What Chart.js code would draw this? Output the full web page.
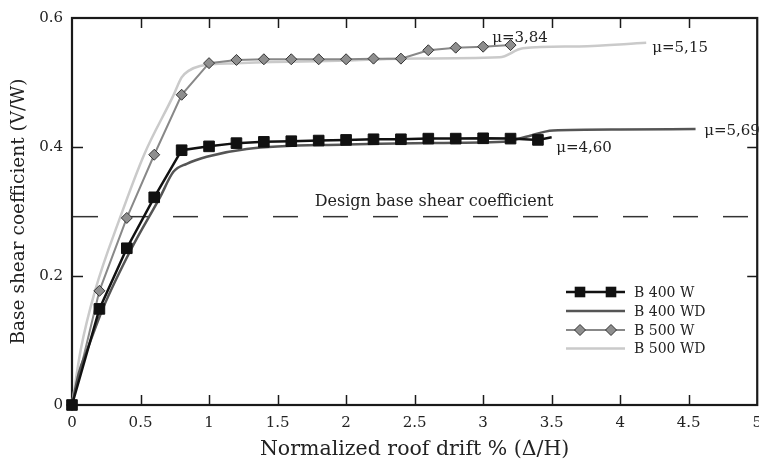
<!DOCTYPE html>
<html><head><meta charset="utf-8">
<script src="https://cdn.jsdelivr.net/npm/chart.js@4.4.1/dist/chart.umd.min.js"></script>
<style>html,body{margin:0;padding:0;overflow:hidden;background:#fff;} #wrap{width:771px;height:465px;}</style>
</head><body><div id="wrap"><canvas id="c" width="771" height="465"></canvas></div>
<script>
// ---- data ----
const xTicks = [0, 0.5, 1, 1.5, 2, 2.5, 3, 3.5, 4, 4.5, 5];
const yTicks = [0, 0.2, 0.4, 0.6];
const xTitle = 'Normalized roof drift % (\u0394/H)';
const yTitle = 'Base shear coefficient (V/W)';
const seriesNames = ['B 400 W', 'B 400 WD', 'B 500 W', 'B 500 WD'];

const b400wX = [0, 0.2, 0.4, 0.6, 0.8, 1.0, 1.2, 1.4, 1.6, 1.8, 2.0, 2.2, 2.4, 2.6, 2.8, 3.0, 3.2, 3.4, 3.5];
const b400wY = [0, 0.149, 0.243, 0.322, 0.395, 0.401, 0.406, 0.408, 0.409, 0.410, 0.411, 0.412, 0.412, 0.413, 0.413, 0.4135, 0.413, 0.411, 0.415];

const b400wdX = [0, 0.05, 0.11, 0.224, 0.435, 0.642, 0.74, 0.837, 0.983, 1.275, 2.0, 2.5, 3.15, 3.3, 3.51, 4.0, 4.55];
const b400wdY = [0, 0.05, 0.085, 0.149, 0.243, 0.322, 0.3615, 0.374, 0.385, 0.397, 0.404, 0.406, 0.408, 0.415, 0.4256, 0.427, 0.428];

const b500wX = [0, 0.2, 0.4, 0.6, 0.8, 1.0, 1.2, 1.4, 1.6, 1.8, 2.0, 2.2, 2.4, 2.6, 2.8, 3.0, 3.2];
const b500wY = [0, 0.177, 0.290, 0.388, 0.481, 0.530, 0.535, 0.536, 0.536, 0.536, 0.536, 0.537, 0.537, 0.550, 0.554, 0.5555, 0.558];

const b500wdX = [0, 0.063, 0.168, 0.35, 0.53, 0.74, 0.8, 0.85, 0.934, 1.2, 2.0, 2.4, 3.12, 3.29, 3.7, 4.19];
const b500wdY = [0, 0.085, 0.177, 0.29, 0.39, 0.48, 0.508, 0.518, 0.5256, 0.530, 0.534, 0.537, 0.539, 0.553, 0.556, 0.5615];

const designY = 0.292;
const designLabel = 'Design base shear coefficient';
const designLabelX = 2.642;
const designLabelY = 0.315;

const muLabels = ['\u03bc=3,84', '\u03bc=5,15', '\u03bc=5,69', '\u03bc=4,60'];
const muX = [3.066, 4.234, 4.613, 3.533];
const muY = [0.569, 0.554, 0.425, 0.398];

// ---- build ----
const pts = (xs, ys) => xs.map((x, i) => ({x: x, y: ys[i]}));
const FONT = 'DejaVu Serif';

const datasets = [
  {label: seriesNames[0], data: pts(b400wX, b400wY), borderColor: '#111', borderWidth: 2.5,
   pointStyle: 'rect', pointRadius: b400wX.map((_, i) => i === b400wX.length - 1 ? 0 : 7.5),
   pointBackgroundColor: '#111', pointBorderColor: '#111', pointBorderWidth: 1, tension: 0, clip: false},
  {label: seriesNames[1], data: pts(b400wdX, b400wdY), borderColor: '#555', borderWidth: 2.5,
   pointRadius: 0, cubicInterpolationMode: 'monotone', clip: false},
  {label: seriesNames[2], data: pts(b500wX, b500wY), borderColor: '#888', borderWidth: 2,
   pointStyle: 'rectRot', pointRadius: 5.5, pointBackgroundColor: '#8e8e8e', pointBorderColor: '#333',
   pointBorderWidth: 1, tension: 0, clip: false},
  {label: seriesNames[3], data: pts(b500wdX, b500wdY), borderColor: '#cacaca', borderWidth: 2.5,
   pointRadius: 0, cubicInterpolationMode: 'monotone', clip: false},
  {label: 'design', data: [{x: 0, y: designY}, {x: 5, y: designY}], borderColor: '#333', borderWidth: 1.5,
   borderDash: [25, 25], borderDashOffset: -1, pointRadius: 0}
];

const framePlugin = {
  id: 'frame',
  beforeDatasetsDraw(chart) {
    const {ctx, chartArea: a, scales: {x, y}} = chart;
    ctx.save();
    ctx.strokeStyle = '#1a1a1a';
    ctx.lineWidth = 1.5;
    const ln = (x1, y1, x2, y2) => { ctx.beginPath(); ctx.moveTo(x1, y1); ctx.lineTo(x2, y2); ctx.stroke(); };
    xTicks.forEach(v => {
      if (v <= x.min || v >= x.max) return;
      const px = Math.round(x.getPixelForValue(v)) + 0.5;
      ln(px, a.bottom, px, a.bottom - 10);
      ln(px, a.top, px, a.top + 10);
    });
    yTicks.forEach(v => {
      if (v <= y.min || v >= y.max) return;
      const py = Math.round(y.getPixelForValue(v)) + 0.5;
      ln(a.left, py, a.left + 11, py);
      ln(a.right, py, a.right - 10, py);
    });
    ctx.lineWidth = 2.2;
    ctx.strokeRect(a.left, a.top, a.right - a.left, a.bottom - a.top);
    ctx.restore();
  }
};

const textPlugin = {
  id: 'texts',
  afterDatasetsDraw(chart) {
    const {ctx, scales: {x, y}} = chart;
    ctx.save();
    ctx.fillStyle = '#222';
    ctx.textBaseline = 'middle';
    ctx.font = '16px "' + FONT + '"';
    ctx.textAlign = 'center';
    ctx.fillText(designLabel, x.getPixelForValue(designLabelX), y.getPixelForValue(designLabelY));
    ctx.font = '15px "' + FONT + '"';
    ctx.textAlign = 'left';
    muLabels.forEach((t, i) => ctx.fillText(t, x.getPixelForValue(muX[i]), y.getPixelForValue(muY[i])));
    ctx.restore();
  }
};

const legendPlugin = {
  id: 'customLegend',
  afterDraw(chart) {
    const ctx = chart.ctx;
    const rows = [292, 311, 330, 348.5];
    const x1 = 566, x2 = 625, tx = 634, mk = [580, 611];
    ctx.save();
    seriesNames.forEach((name, i) => {
      const ds = chart.data.datasets[i];
      const yy = rows[i];
      ctx.strokeStyle = ds.borderColor;
      ctx.lineWidth = ds.borderWidth;
      ctx.beginPath(); ctx.moveTo(x1, yy); ctx.lineTo(x2, yy); ctx.stroke();
      if (ds.pointStyle === 'rect') {
        mk.forEach(mx => {
          ctx.fillStyle = ds.pointBackgroundColor;
          ctx.fillRect(mx - 5.3, yy - 5.3, 10.6, 10.6);
        });
      } else if (ds.pointStyle === 'rectRot') {
        mk.forEach(mx => {
          const r = 5.5;
          ctx.beginPath();
          ctx.moveTo(mx - r, yy); ctx.lineTo(mx, yy - r); ctx.lineTo(mx + r, yy); ctx.lineTo(mx, yy + r); ctx.closePath();
          ctx.fillStyle = ds.pointBackgroundColor; ctx.fill();
          ctx.lineWidth = 1; ctx.strokeStyle = ds.pointBorderColor; ctx.stroke();
        });
      }
      ctx.fillStyle = '#222';
      ctx.font = '14px "' + FONT + '"';
      ctx.textAlign = 'left';
      ctx.textBaseline = 'middle';
      ctx.fillText(name, tx, yy + 1);
    });
    ctx.restore();
  }
};

new Chart(document.getElementById('c'), {
  type: 'line',
  data: {datasets: datasets},
  options: {
    responsive: false,
    animation: false,
    events: [],
    layout: {padding: {top: 15, right: 10, left: 0, bottom: 0}},
    plugins: {legend: {display: false}, tooltip: {enabled: false}},
    scales: {
      x: {
        type: 'linear', min: 0, max: 5,
        afterBuildTicks: s => { s.ticks = xTicks.map(v => ({value: v})); },
        afterFit: s => { s.height = 60; },
        grid: {display: false, drawTicks: false},
        border: {display: false},
        ticks: {padding: 9, color: '#222', font: {family: FONT, size: 15}, maxRotation: 0, autoSkip: false,
                callback: v => String(v)},
        title: {display: true, text: xTitle, color: '#222', font: {family: FONT, size: 20.5}, padding: {top: 0, bottom: 3}}
      },
      y: {
        type: 'linear', min: 0, max: 0.6,
        afterBuildTicks: s => { s.ticks = yTicks.map(v => ({value: v})); },
        afterFit: s => { s.width = 72; },
        grid: {display: false, drawTicks: false},
        border: {display: false},
        ticks: {padding: 9, color: '#222', font: {family: FONT, size: 15}, callback: v => String(v)},
        title: {display: true, text: yTitle, color: '#222', font: {family: FONT, size: 18.5}, padding: {top: 8, bottom: 0}}
      }
    }
  },
  plugins: [framePlugin, textPlugin, legendPlugin]
});
</script>
</body></html>
